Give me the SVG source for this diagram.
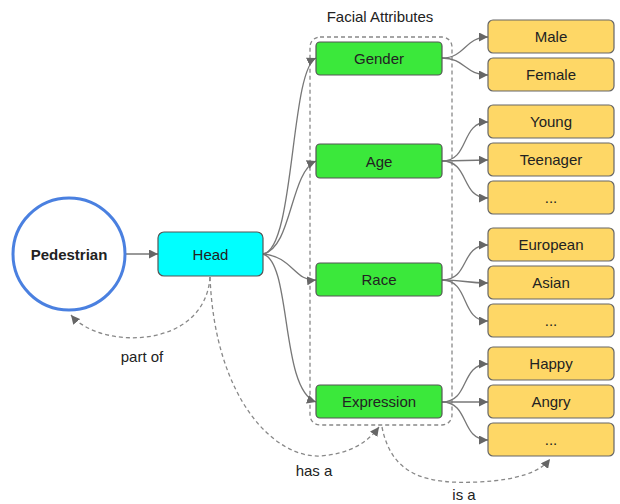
<svg xmlns="http://www.w3.org/2000/svg" width="620" height="504" viewBox="0 0 620 504">
<defs>
<marker id="ah" viewBox="0 0 10 10" refX="10" refY="5" markerWidth="9" markerHeight="9" markerUnits="userSpaceOnUse" orient="auto">
<path d="M0,0 L10,5 L0,10 z" fill="#666"/>
</marker>
<style>
text{font-family:"Liberation Sans",Arial,sans-serif;font-size:15px;fill:#222;text-anchor:middle;dominant-baseline:central}
.g rect{fill:#3be83b;stroke:#555;stroke-width:1.2}
.y rect{fill:#fed766;stroke:#666;stroke-width:1.2}
.e{fill:none;stroke:#777;stroke-width:1.3}
.d{fill:none;stroke:#888;stroke-width:1.3;stroke-dasharray:4,3}
</style>
</defs>
<rect width="620" height="504" fill="#fff"/>
<text x="380" y="16">Facial Attributes</text>
<rect x="310" y="37" width="142" height="388" rx="10" class="d"/>

<g id="connectors">
<path class="e" d="M125,254 L158,254" marker-end="url(#ah)"/>
<path class="e" d="M263,254 C295,250 290,70 316,58" marker-end="url(#ah)"/>
<path class="e" d="M263,254 C292,248 290,172 316,161" marker-end="url(#ah)"/>
<path class="e" d="M263,254 C292,256 295,282 316,280" marker-end="url(#ah)"/>
<path class="e" d="M263,254 C292,262 280,390 316,402" marker-end="url(#ah)"/>
<path class="e" d="M442,58 C465,58 465,37 488,37" marker-end="url(#ah)"/>
<path class="e" d="M442,58 C465,58 465,75 488,75" marker-end="url(#ah)"/>
<path class="e" d="M442,161 C470,161 460,122 488,122" marker-end="url(#ah)"/>
<path class="e" d="M442,161 L488,160" marker-end="url(#ah)"/>
<path class="e" d="M442,161 C470,161 460,198 488,198" marker-end="url(#ah)"/>
<path class="e" d="M442,280 C470,280 460,245 488,245" marker-end="url(#ah)"/>
<path class="e" d="M442,280 C465,280 465,283 488,283" marker-end="url(#ah)"/>
<path class="e" d="M442,280 C470,280 460,321 488,321" marker-end="url(#ah)"/>
<path class="e" d="M442,402 C470,402 460,364 488,364" marker-end="url(#ah)"/>
<path class="e" d="M442,402 L488,402" marker-end="url(#ah)"/>
<path class="e" d="M442,402 C470,402 460,440 488,440" marker-end="url(#ah)"/>
<path class="d" d="M210,277 C205,350 100,350 71,315" marker-end="url(#ah)"/>
<path class="d" d="M210,277 C215,400 275,458 320,456 C350,454 368,442 379,427" marker-end="url(#ah)"/>
<path class="d" d="M382,427 C392,478 430,484 478,482 C518,480 540,472 550,459" marker-end="url(#ah)"/>
<text x="142" y="356">part of</text>
<text x="314" y="470">has a</text>
<text x="464" y="494">is a</text>
</g>

<g id="pedestrian">
<circle cx="69" cy="254" r="56" fill="#fff" stroke="#4a80e0" stroke-width="3"/>
<text x="69" y="254" font-weight="bold">Pedestrian</text>
</g>
<g id="head">
<rect x="158" y="232" width="105" height="44" rx="6" fill="#00ffff" stroke="#555" stroke-width="1.2"/>
<text x="210.5" y="254">Head</text>
</g>

<g id="gender" class="g"><rect x="316" y="42" width="126" height="33" rx="4"/><text x="379" y="58.5">Gender</text></g>
<g id="age" class="g"><rect x="316" y="144" width="126" height="34" rx="4"/><text x="379" y="161">Age</text></g>
<g id="race" class="g"><rect x="316" y="263" width="126" height="33" rx="4"/><text x="379" y="279.5">Race</text></g>
<g id="expression" class="g"><rect x="316" y="385" width="126" height="33" rx="4"/><text x="379" y="401.5">Expression</text></g>

<g id="male" class="y"><rect x="488" y="20" width="126" height="33" rx="5"/><text x="551" y="36.5">Male</text></g>
<g id="female" class="y"><rect x="488" y="58" width="126" height="33" rx="5"/><text x="551" y="74.5">Female</text></g>
<g id="young" class="y"><rect x="488" y="105" width="126" height="33" rx="5"/><text x="551" y="121.5">Young</text></g>
<g id="teenager" class="y"><rect x="488" y="143" width="126" height="33" rx="5"/><text x="551" y="159.5">Teenager</text></g>
<g id="age-more" class="y"><rect x="488" y="181" width="126" height="33" rx="5"/><text x="551" y="197.5">...</text></g>
<g id="european" class="y"><rect x="488" y="228" width="126" height="33" rx="5"/><text x="551" y="244.5">European</text></g>
<g id="asian" class="y"><rect x="488" y="266" width="126" height="33" rx="5"/><text x="551" y="282.5">Asian</text></g>
<g id="race-more" class="y"><rect x="488" y="304" width="126" height="33" rx="5"/><text x="551" y="320.5">...</text></g>
<g id="happy" class="y"><rect x="488" y="347" width="126" height="33" rx="5"/><text x="551" y="363.5">Happy</text></g>
<g id="angry" class="y"><rect x="488" y="385" width="126" height="33" rx="5"/><text x="551" y="401.5">Angry</text></g>
<g id="expr-more" class="y"><rect x="488" y="423" width="126" height="33" rx="5"/><text x="551" y="439.5">...</text></g>
</svg>
